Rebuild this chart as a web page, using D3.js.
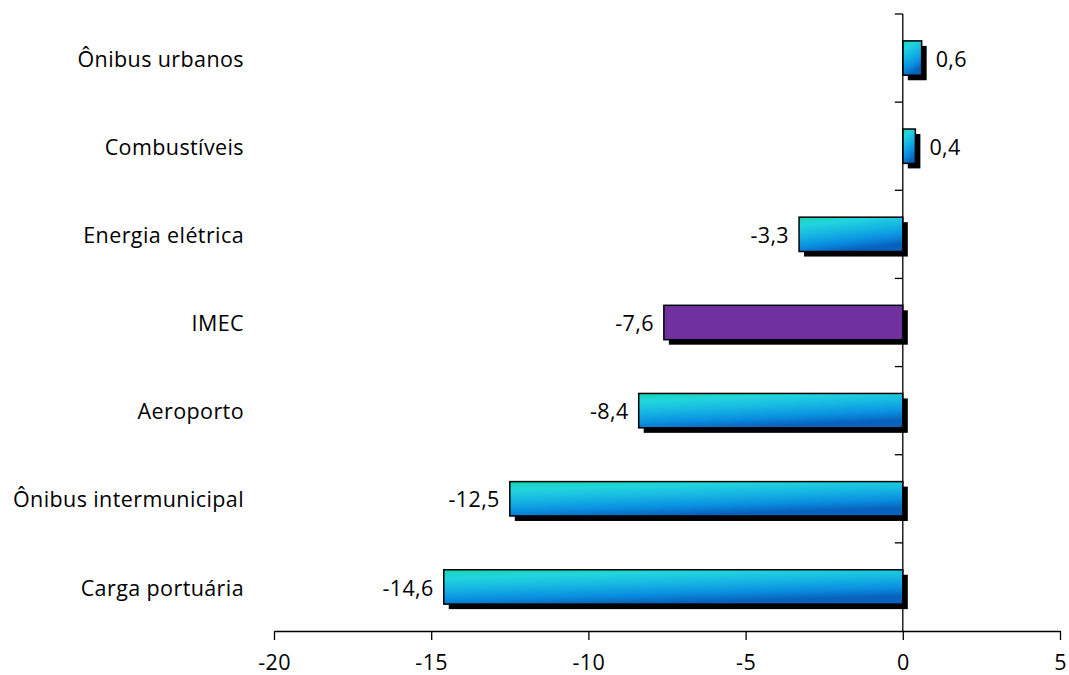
<!DOCTYPE html>
<html>
<head>
<meta charset="utf-8">
<script src="https://cdn.jsdelivr.net/npm/d3@7"></script>
<style>
  body { margin: 0; background: #fff; }
  svg { display: block; }
  text { font-family: "Open Sans", sans-serif; fill: #000; letter-spacing: 0.4px; }
</style>
</head>
<body>
<div id="chart"></div>
<script>
"use strict";

// categories, top to bottom
var categories = ["Ônibus urbanos", "Combustíveis", "Energia elétrica", "IMEC",
                  "Aeroporto", "Ônibus intermunicipal", "Carga portuária"];
var values = [0.6, 0.4, -3.3, -7.6, -8.4, -12.5, -14.6];
var highlight = ["IMEC"];
var xTicks = [-20, -15, -10, -5, 0, 5];

var width = 1069, height = 675;
var margin = {top: 14, right: 9, bottom: 44, left: 274};
var fontSize = "21.5px";

var svg = d3.select("#chart").append("svg")
    .attr("width", width)
    .attr("height", height);

var defs = svg.append("defs");
var grad = defs.append("linearGradient")
    .attr("id", "barGrad")
    .attr("x1", 0).attr("y1", 0)
    .attr("x2", 0.35).attr("y2", 1);
grad.selectAll("stop")
    .data([
        [0, "#17d3b2"],
        [0.22, "#22d5dd"],
        [0.5, "#15b6e3"],
        [0.78, "#0a8ee0"],
        [1, "#0862bb"]
    ])
    .enter().append("stop")
    .attr("offset", function(d) { return d[0]; })
    .attr("stop-color", function(d) { return d[1]; });

var x = d3.scaleLinear()
    .domain([-20, 5])
    .range([margin.left, width - margin.right]);

var y = d3.scaleBand()
    .domain(categories)
    .range([margin.top, height - margin.bottom])
    .paddingInner(0.61)
    .paddingOuter(0.305);

var band = (height - margin.bottom - margin.top) / categories.length;
var bh = y.bandwidth();
var shadow = 5;

// shadows
svg.append("g").selectAll("rect")
    .data(values)
    .enter().append("rect")
    .attr("x", function(d) { return Math.min(x(d), x(0)) + shadow; })
    .attr("y", function(d, i) { return y(categories[i]) + shadow; })
    .attr("width", function(d) { return Math.abs(x(d) - x(0)); })
    .attr("height", bh)
    .attr("fill", "#000");

// bars
svg.append("g").selectAll("rect")
    .data(values)
    .enter().append("rect")
    .attr("x", function(d) { return Math.min(x(d), x(0)); })
    .attr("y", function(d, i) { return y(categories[i]); })
    .attr("width", function(d) { return Math.abs(x(d) - x(0)); })
    .attr("height", bh)
    .attr("fill", function(d, i) {
        return highlight.indexOf(categories[i]) >= 0 ? "#7030a0" : "url(#barGrad)";
    })
    .attr("stroke", "#000")
    .attr("stroke-width", 1.5);

// value labels
svg.append("g").selectAll("text")
    .data(values)
    .enter().append("text")
    .attr("x", function(d) { return d < 0 ? x(d) - 10 : x(d) + 14; })
    .attr("y", function(d, i) { return y(categories[i]) + bh / 2; })
    .attr("dy", "0.4em")
    .attr("text-anchor", function(d) { return d < 0 ? "end" : "start"; })
    .style("font-size", fontSize)
    .text(function(d) { return String(d).replace(".", ","); });

// category labels
svg.append("g").selectAll("text")
    .data(categories)
    .enter().append("text")
    .attr("x", 244)
    .attr("y", function(d) { return y(d) + bh / 2; })
    .attr("dy", "0.4em")
    .attr("text-anchor", "end")
    .style("font-size", fontSize)
    .text(function(d) { return d; });

// x axis
var xAxis = svg.append("g")
    .attr("transform", "translate(0," + (height - margin.bottom) + ")")
    .call(d3.axisBottom(x).tickValues(xTicks).tickSize(9).tickSizeOuter(0)
        .tickFormat(function(d) { return String(d); }));
xAxis.select(".domain").attr("stroke", "#000").attr("stroke-width", 1.3);
xAxis.selectAll(".tick line").attr("stroke", "#000").attr("stroke-width", 1.3);
xAxis.selectAll(".tick text")
    .attr("y", 31)
    .attr("dy", "0.36em")
    .style("font-size", fontSize)
    .style("font-family", "'Open Sans', sans-serif");

// y axis at zero with ticks between categories
var yTicks = d3.range(categories.length + 1).map(function(i) { return margin.top + i * band; });
var yAxis = svg.append("g");
yAxis.append("line")
    .attr("x1", x(0)).attr("x2", x(0))
    .attr("y1", margin.top).attr("y2", height - margin.bottom)
    .attr("stroke", "#000").attr("stroke-width", 1.3);
yAxis.selectAll(".yt")
    .data(yTicks.slice(0, -1))
    .enter().append("line")
    .attr("class", "yt")
    .attr("x1", x(0) - 8).attr("x2", x(0))
    .attr("y1", function(d) { return d; }).attr("y2", function(d) { return d; })
    .attr("stroke", "#000").attr("stroke-width", 1.3);
</script>
</body>
</html>
